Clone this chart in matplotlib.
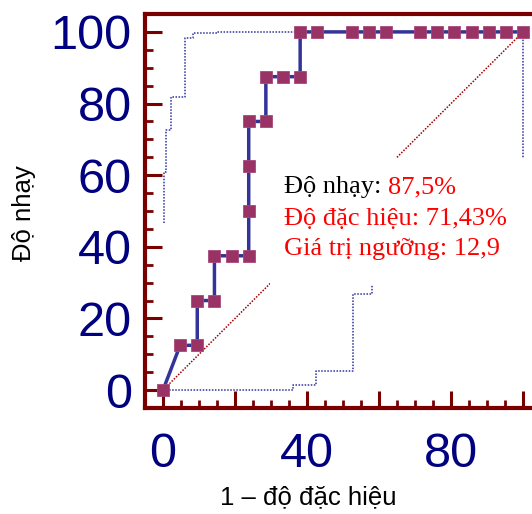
import matplotlib
matplotlib.use("Agg")
import matplotlib.pyplot as plt
from matplotlib.patches import Rectangle
from matplotlib.ticker import MultipleLocator, FixedLocator

# ROC curve (1 - specificity, sensitivity), in %
fpr = [0, 4.76, 9.52, 9.52, 14.29, 14.29, 19.05, 23.81, 23.81, 23.81, 23.81,
       28.57, 28.57, 33.33, 38.10, 38.10, 42.86, 52.38, 57.14, 61.90, 71.43,
       76.19, 80.95, 85.71, 90.48, 95.24, 100]
sens = [0, 12.5, 12.5, 25, 25, 37.5, 37.5, 37.5, 50, 62.5, 75,
        75, 87.5, 87.5, 87.5, 100, 100, 100, 100, 100, 100,
        100, 100, 100, 100, 100, 100]

# confidence bands (dotted)
upper_x = [0.3, 0.3, 0.75, 0.75, 2.1, 2.1, 6.1, 6.1, 8.4, 8.4, 14.9, 14.9, 100]
upper_y = [46.6, 61, 61, 72.6, 72.6, 81.8, 81.8, 98.2, 98.2, 99.6, 99.6, 100, 100]
lower_x = [0, 36, 36, 42.5, 42.5, 52.8, 52.8, 58, 58, 72, 72, 100, 100]
lower_y = [0, 0, 1.4, 1.4, 5.3, 5.3, 26.8, 26.8, 42, 42, 55, 55, 100]

ref_x = [0, 100]
ref_y = [0, 100]

xticks_major = [0, 20, 40, 60, 80, 100]
xtick_labels = ["0", "", "40", "", "80", ""]
yticks_major = [0, 20, 40, 60, 80, 100]

info_label = "Độ nhạy: "
info_value = "87,5%"
info_lines = ["Độ đặc hiệu: 71,43%", "Giá trị ngưỡng: 12,9"]

spine_col = "#7a0000"
tick_col = "#000080"

fig = plt.figure(figsize=(5.32, 5.14), dpi=100)
ax = fig.add_axes([145 / 532, 106 / 514, 396 / 532, 394 / 514])

ax.plot(ref_x, ref_y, color="#a00000", lw=1.1, ls=(0, (1, 1)), zorder=1)
ax.plot(upper_x, upper_y, color="#3030a0", lw=1.1, ls=(0, (1, 1)), zorder=1)
ax.plot(lower_x, lower_y, color="#3030a0", lw=1.1, ls=(0, (1, 1)), zorder=1)

# white panel behind the text
ax.add_patch(Rectangle((29.7, 29.3), 80, 35.5, facecolor="white",
                       edgecolor="none", zorder=2))

ax.plot(fpr, sens, color="#333399", lw=2.5, marker="s", markersize=9,
        markerfacecolor="#993366", markeredgecolor="#a8477a", mew=0.6,
        zorder=4)

t1 = ax.text(33.6, 55.0, info_label, family="Liberation Serif", fontsize=19,
             color="black", va="baseline", ha="left", zorder=5)
ax.annotate(info_value, xy=(1, 0), xycoords=t1, va="bottom", ha="left",
            family="Liberation Serif", fontsize=19, color="red", zorder=5)
ax.text(33.6, 46.1, info_lines[0], family="Liberation Serif", fontsize=19,
        color="red", va="baseline", ha="left", zorder=5)
ax.text(33.6, 37.7, info_lines[1], family="Liberation Serif", fontsize=19,
        color="red", va="baseline", ha="left", zorder=5)

ax.set_xlim(-5, 105)
ax.set_ylim(-5, 105)

ax.xaxis.set_major_locator(FixedLocator(xticks_major))
ax.set_xticklabels(xtick_labels)
ax.xaxis.set_minor_locator(MultipleLocator(5))
ax.yaxis.set_major_locator(FixedLocator(yticks_major))
ax.yaxis.set_minor_locator(MultipleLocator(5))

for s in ax.spines.values():
    s.set_color(spine_col)
    s.set_linewidth(3)

ax.tick_params(which="both", direction="in", color=spine_col,
               top=False, right=False)
ax.tick_params(which="major", length=12, width=2.2)
ax.tick_params(which="minor", length=6, width=2)
ax.tick_params(axis="x", which="major", pad=17, labelsize=35,
               labelcolor=tick_col)
ax.tick_params(axis="y", which="major", pad=9.5, labelsize=35,
               labelcolor=tick_col)
for lab in ax.get_xticklabels() + ax.get_yticklabels():
    lab.set_family("Liberation Sans")

fig.text(24 / 532, 1 - 213 / 514, "Độ nhạy", rotation=90, ha="center",
         va="center", family="Liberation Sans", fontsize=18.5)
fig.text(308 / 532, 1 - 497 / 514, "1 – độ đặc hiệu", ha="center",
         va="center", family="Liberation Sans", fontsize=18.5)

fig.savefig("out.png", dpi=100)
